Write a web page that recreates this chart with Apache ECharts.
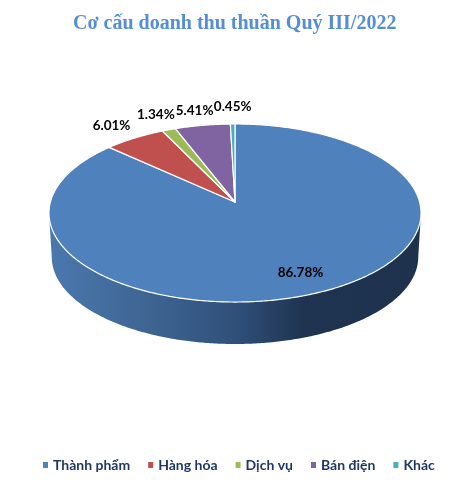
<!DOCTYPE html>
<html>
<head>
<meta charset="utf-8">
<style>html,body{margin:0;padding:0;background:#fff}#c{width:470px;height:484px}</style>
<script src="https://cdn.jsdelivr.net/npm/echarts@6/dist/echarts.min.js"></script>
</head>
<body>
<div id="c"></div>
<script>
var categories = ['Thành phẩm', 'Hàng hóa', 'Dịch vụ', 'Bán điện', 'Khác'];
var values = [86.78, 6.01, 1.34, 5.41, 0.45];
var labels = ['86.78%', '6.01%', '1.34%', '5.41%', '0.45%'];
var colors = ['#4f81bd', '#c0504d', '#9bbb59', '#8064a2', '#4bacc6'];

var labelRadius = [0.8, 1, 1, 1, 1];
var labelShift = [[0, 0], [-23, -12], [-13, -15], [-8, -15], [0, -17]];

var total = values.reduce(function (a, b) { return a + b; }, 0);
var cx = 235, A = 184.6, a = 62.7, b = 202, c = -0.1236;

function project(theta, r) {
  var u = Math.sin(theta) * r, v = -Math.cos(theta) * r;
  var d = 1 + c * v;
  return [cx + A * u / d, (a * v + b) / d];
}
function lower(p) {
  return [cx + (p[0] - cx) * 0.985, 257 + (p[1] - 213) * 0.977];
}
function arc(t0, t1) {
  var pts = [], n = Math.max(2, Math.ceil((t1 - t0) / 0.01));
  for (var i = 0; i <= n; i++) pts.push(project(t0 + (t1 - t0) * i / n, 1));
  return pts;
}

function makeSeries(idx) {
  var before = 0;
  for (var k = 0; k < idx; k++) before += values[k];
  return {
    type: 'custom',
    name: categories[idx],
    coordinateSystem: 'none',
    silent: true,
    itemStyle: { color: colors[idx] },
    data: [[values[idx]]],
    renderItem: function (params, api) {
      var t0 = before / total * Math.PI * 2;
      var t1 = (before + api.value(0)) / total * Math.PI * 2;
      var children = [];
      var f0 = Math.max(t0, 1.695), f1 = Math.min(t1, 4.588);
      if (idx === 0 && f1 > f0) {
        var top = arc(f0, f1);
        var wall = top.concat(top.map(lower).reverse());
        children.push({
          type: 'polygon',
          shape: { points: wall },
          style: {
            fill: new echarts.graphic.LinearGradient(0, 0, 1, 0, [
              { offset: 0, color: '#4a78ae' },
              { offset: 0.25, color: '#3f6694' },
              { offset: 0.5, color: '#30507a' },
              { offset: 0.68, color: '#1f3451' },
              { offset: 1, color: '#1e324e' }
            ])
          }
        });
      }
      var face = [[project(0, 0)[0], project(0, 0)[1]]].concat(arc(t0, t1));
      children.push({
        type: 'polygon',
        shape: { points: face },
        style: { fill: colors[idx], stroke: '#ffffff', lineWidth: 1.2, lineJoin: 'round' }
      });
      var mid = (t0 + t1) / 2, p = project(mid, labelRadius[idx]);
      children.push({
        type: 'text',
        z2: 10,
        style: {
          x: p[0] + labelShift[idx][0],
          y: p[1] + labelShift[idx][1],
          text: labels[idx],
          fill: '#000000',
          font: 'bold 13.5px Lato',
          align: 'center',
          verticalAlign: 'middle'
        }
      });
      return { type: 'group', children: children };
    }
  };
}

var chart = echarts.init(document.getElementById('c'), null, { renderer: 'canvas' });
chart.setOption({
  animation: false,
  backgroundColor: '#ffffff',
  title: {
    text: 'Cơ cấu doanh thu thuần Quý III/2022',
    left: 68,
    top: 9,
    textStyle: { fontFamily: 'Liberation Serif', fontWeight: 'bold', fontSize: 20, color: '#558ed5' }
  },
  legend: {
    data: categories,
    left: 38,
    top: 453,
    itemWidth: 5,
    itemHeight: 6,
    itemGap: 18,
    icon: 'rect',
    textStyle: { fontFamily: 'Lato', fontWeight: 'bold', fontSize: 14, color: '#1f3864', padding: [0, 0, 0, 0] }
  },
  series: categories.map(function (_, i) { return makeSeries(i); })
});
</script>
</body>
</html>
